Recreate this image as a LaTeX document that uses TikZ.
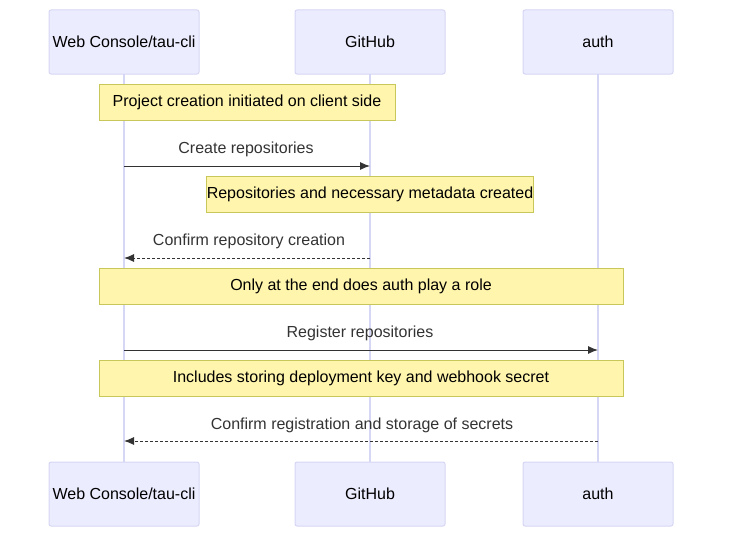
\documentclass[tikz,border=0pt]{standalone}
\usepackage{fontspec}
\setmainfont{Liberation Sans}
\usetikzlibrary{arrows.meta}
\definecolor{actfill}{HTML}{ECECFF}
\definecolor{actline}{HTML}{D6D6F5}
\definecolor{notefill}{HTML}{FFF5AD}
\definecolor{noteline}{HTML}{C8C85A}
\definecolor{txt}{HTML}{333333}
\begin{document}
\begin{tikzpicture}[x=1pt,y=-1pt,
  every node/.style={font=\fontsize{16}{19}\selectfont},
  actor/.style={draw=actline,fill=actfill,rounded corners=2pt,minimum width=150pt,minimum height=64pt,inner sep=0pt,line width=1pt},
  note/.style={draw=noteline,fill=notefill,inner sep=0pt,line width=1pt},
  life/.style={draw=actline,line width=1.5pt},
  msg/.style={draw=txt,line width=1pt,-{Latex[length=10pt,width=8pt]}},
  dmsg/.style={msg,dash pattern=on 3pt off 2pt},
  lbl/.style={text=txt}]
\useasboundingbox (0,0) rectangle (730,543);
\coordinate (a1) at (124,74); \coordinate (a2) at (124,462);
\coordinate (g1) at (370,74); \coordinate (g2) at (370,462);
\coordinate (u1) at (598,74); \coordinate (u2) at (598,462);
\draw[life] (a1) -- (a2); \draw[life] (g1) -- (g2); \draw[life] (u1) -- (u2);
\node[actor] (wt) at (124,42) {Web Console/tau-cli};
\node[actor] (gt) at (370,42) {GitHub};
\node[actor] (ut) at (598,42) {auth};
\node[actor] (wb) at (124,494) {Web Console/tau-cli};
\node[actor] (gb) at (370,494) {GitHub};
\node[actor] (ub) at (598,494) {auth};
\node[note,minimum width=296pt,minimum height=36pt] (n1) at (247,102) {Project creation initiated on client side};
\node[note,minimum width=302pt,minimum height=36pt] (n2) at (370,194) {Repositories and necessary metadata created};
\node[note,minimum width=524pt,minimum height=36pt] (n3) at (361,286) {Only at the end does auth play a role};
\node[note,minimum width=524pt,minimum height=36pt] (n4) at (361,378) {Includes storing deployment key and webhook secret};
\coordinate (m1s) at (124,166); \coordinate (m1e) at (370,166);
\coordinate (m2s) at (370,258); \coordinate (m2e) at (124,258);
\coordinate (m3s) at (124,350); \coordinate (m3e) at (598,350);
\coordinate (m4s) at (598,441); \coordinate (m4e) at (124,441);
\draw[msg] (m1s) -- (m1e); \node[lbl] (l1) at (246,149) {Create repositories};
\draw[dmsg] (m2s) -- (m2e); \node[lbl] (l2) at (249,241) {Confirm repository creation};
\draw[msg] (m3s) -- (m3e); \node[lbl] (l3) at (360,333) {Register repositories};
\draw[dmsg] (m4s) -- (m4e); \node[lbl] (l4) at (362,425) {Confirm registration and storage of secrets};
\end{tikzpicture}
\end{document}
